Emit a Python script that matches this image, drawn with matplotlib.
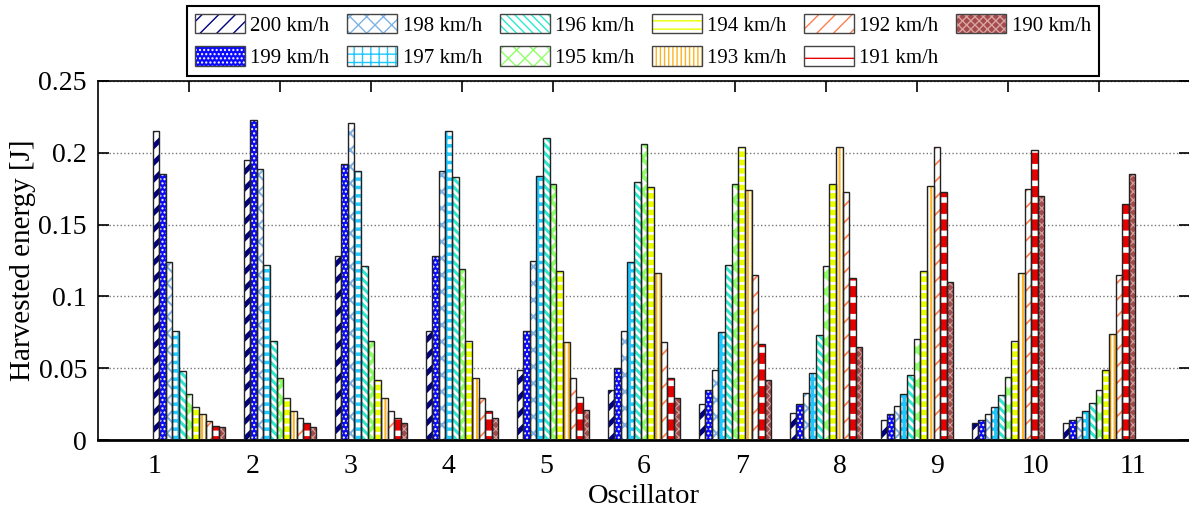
import numpy as np
import matplotlib
matplotlib.use("Agg")
import matplotlib.pyplot as plt
from matplotlib.patches import Rectangle

plt.rcParams["font.family"] = ["Liberation Serif", "DejaVu Serif"]

oscillators = [1, 2, 3, 4, 5, 6, 7, 8, 9, 10, 11]
speeds = ["200", "199", "198", "197", "196", "195", "194", "193", "192", "191", "190"]

v200 = [0.215, 0.195, 0.128, 0.076, 0.049, 0.035, 0.025, 0.019, 0.014, 0.012, 0.012]
v199 = [0.185, 0.223, 0.192, 0.128, 0.076, 0.050, 0.035, 0.025, 0.018, 0.014, 0.014]
v198 = [0.124, 0.189, 0.221, 0.187, 0.125, 0.076, 0.049, 0.033, 0.024, 0.018, 0.016]
v197 = [0.076, 0.122, 0.187, 0.215, 0.184, 0.124, 0.075, 0.047, 0.032, 0.023, 0.020]
v196 = [0.048, 0.069, 0.121, 0.183, 0.210, 0.180, 0.122, 0.073, 0.045, 0.031, 0.026]
v195 = [0.032, 0.043, 0.069, 0.119, 0.178, 0.206, 0.178, 0.121, 0.070, 0.044, 0.035]
v194 = [0.023, 0.029, 0.042, 0.069, 0.118, 0.176, 0.204, 0.178, 0.118, 0.069, 0.049]
v193 = [0.018, 0.020, 0.029, 0.043, 0.068, 0.116, 0.174, 0.204, 0.177, 0.116, 0.074]
v192 = [0.013, 0.015, 0.020, 0.029, 0.043, 0.068, 0.115, 0.173, 0.204, 0.175, 0.115]
v191 = [0.010, 0.012, 0.015, 0.020, 0.030, 0.043, 0.067, 0.113, 0.173, 0.202, 0.164]
v190 = [0.009, 0.009, 0.012, 0.015, 0.021, 0.029, 0.042, 0.065, 0.110, 0.170, 0.185]

series = [v200, v199, v198, v197, v196, v195, v194, v193, v192, v191, v190]

# (face colour, hatch, hatch colour, hatch linewidth)
styles = [
    ("white", "//", "#000080", 3.5),
    ("#0a0aff", "....", "white", 1.0),
    ("white", "xx", "#7fb2e5", 1.5),
    ("white", "++", "#1ec8ff", 2.5),
    ("white", "\\\\\\\\", "#2ee8d0", 2.2),
    ("white", "xx", "#8fff6a", 3.0),
    ("white", "--", "#eaff00", 4.0),
    ("white", "||||", "#ffb320", 1.5),
    ("white", "//", "#ff7f50", 1.3),
    ("white", "-", "#e60000", 8.0),
    ("#a44c4c", "xxxx", "#d9a3a3", 0.8),
]

fig = plt.figure(figsize=(11.89, 5.13), dpi=100)
ax = fig.add_axes([98 / 1189, 1 - 440 / 513, 1092 / 1189, 359 / 513])

x = np.array(oscillators, dtype=float)
n = len(series)
w = 0.8 / n
handles = []
for k, vals in enumerate(series):
    fc, hatch, hc, hlw = styles[k]
    pos = x - 0.4 + (k + 0.5) * w
    with plt.rc_context({"hatch.linewidth": hlw}):
        bars = ax.bar(pos, vals, width=w, color=fc, edgecolor=hc,
                      hatch=hatch, linewidth=0, zorder=2)
        for b in bars:
            if hasattr(b, "set_hatch_linewidth"):
                b.set_hatch_linewidth(hlw)
        proxy = Rectangle((0, 0), 1, 1, facecolor=fc, edgecolor=hc,
                          hatch=hatch, linewidth=0)
        if hasattr(proxy, "set_hatch_linewidth"):
            proxy.set_hatch_linewidth(hlw)
    ax.bar(pos, vals, width=w, color="none", edgecolor="#222222",
           linewidth=1.0, zorder=3)
    outline = Rectangle((0, 0), 1, 1, facecolor="none",
                        edgecolor="#444444", linewidth=1.0)
    handles.append((proxy, outline))

ax.set_xlim(0, 12)
ax.set_ylim(0, 0.25)

# tick labels sit spread slightly wider than the bar groups
label_pos = 6 + (x - 6) * 1.075
ax.set_xticks(label_pos)
ax.set_xticklabels([str(o) for o in oscillators])
ax.set_xticks(x, minor=True)
ax.tick_params(axis="x", which="major", length=0, pad=10, labelsize=20)
ax.tick_params(axis="x", which="minor", bottom=False, top=True,
               direction="in", length=8, width=1.2)

ax.set_yticks([0, 0.05, 0.1, 0.15, 0.2, 0.25])
ax.set_yticklabels(["0", "0.05", "0.1", "0.15", "0.2", "0.25"])
ax.tick_params(axis="y", direction="in", length=8, width=1.2,
               right=True, pad=8, labelsize=20)

ax.yaxis.grid(True, linestyle=":", color="#777777", linewidth=1.0)
ax.set_axisbelow(True)

for s in ["left", "bottom", "top"]:
    ax.spines[s].set_linewidth(1.2)
ax.spines["bottom"].set_linewidth(2.0)

ax.set_xlabel("Oscillator", fontsize=20.5, labelpad=4)
ax.set_ylabel("Harvested energy [J]", fontsize=21, labelpad=1.5)

leg = fig.legend(handles, [s + " km/h" for s in speeds],
                 loc="center", bbox_to_anchor=(643 / 1189, 1 - 41 / 513),
                 ncol=6, fontsize=15, handlelength=2.4, handleheight=1.05,
                 handletextpad=0.25, columnspacing=0.85, labelspacing=0.5,
                 borderpad=0.4, fancybox=False, framealpha=1,
                 edgecolor="black")
leg.get_frame().set_linewidth(1.5)

plt.savefig("out.png", dpi=100)
